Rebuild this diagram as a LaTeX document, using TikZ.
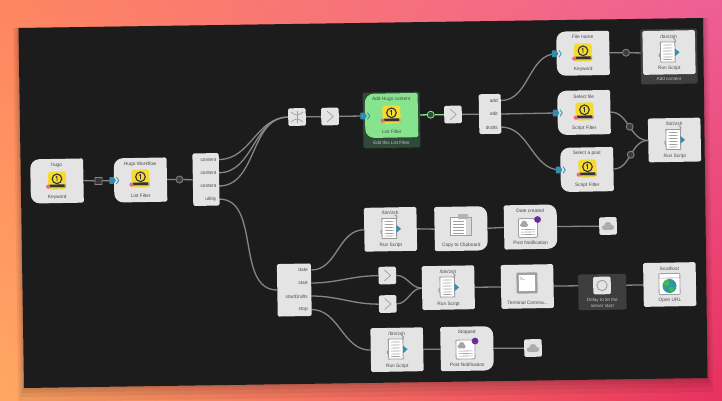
\documentclass[tikz,border=0pt]{standalone}
\usepackage{fontspec}
\setmainfont{Liberation Sans}
\usetikzlibrary{calc,shadings,backgrounds}
\definecolor{panelbg}{HTML}{1C1C1C}
\definecolor{boxgray}{HTML}{E4E4E4}
\definecolor{edgegray}{HTML}{858585}
\definecolor{labelgray}{HTML}{4A4A4A}
\definecolor{portblue}{HTML}{2E8FB0}
\definecolor{nodegreen}{HTML}{86E48C}
\definecolor{framegreen}{HTML}{2F4A38}
\definecolor{framegray}{HTML}{3E3E3E}
\definecolor{hugoyellow}{HTML}{F6DA30}
\definecolor{hugopink}{HTML}{F06488}
\definecolor{notepurple}{HTML}{6A2C98}
\definecolor{bgtl}{HTML}{FF8560}
\definecolor{bgtr}{HTML}{EE5F95}
\definecolor{bgbl}{HTML}{FFA862}
\definecolor{bgbr}{HTML}{E8305E}
\tikzset{
  boxnode/.style={fill=boxgray,rounded corners=1.5pt,rotate=1,inner sep=0pt,minimum width=52.5pt,minimum height=43.8pt},
  basenode/.style={rotate=1,inner sep=0pt,minimum width=52.5pt,minimum height=43.8pt},
  tinybox/.style={fill=boxgray,rounded corners=1.5pt,rotate=1,inner sep=0pt,minimum size=17.6pt},
  framebox/.style={rounded corners=2pt,rotate=1,inner sep=0pt},
  boxlabel/.style={font=\fontsize{4.8}{5.6}\selectfont,text=labelgray,inner sep=0pt},
  caplabel/.style={font=\fontsize{4.6}{6}\selectfont,text=boxgray!85!black,inner sep=0pt,align=center},
  edge/.style={draw=edgegray,line width=1.3pt},
  greenedge/.style={draw=nodegreen,line width=1.3pt},
  joint/.style={circle,draw=edgegray,fill=panelbg!70!edgegray,line width=.8pt,minimum size=7pt,inner sep=0pt},
  iconline/.style={draw=gray!75,line width=.6pt}
}
\newcommand{\flowbox}[6][boxgray]{%
  \node[basenode] (#2) at (#3) {};
  \fill[#1] (#2.north) [rounded corners=#5] -- (#2.north east) -- (#2.east) -- (#2.south east) -- (#2.south)
    [rounded corners=#4] -- (#2.south west) -- (#2.west) -- (#2.north west) -- cycle;
  \node[boxlabel,anchor=center] (#2top) at ($(#2.north)+(.1,6)$) {#6};
}
\newcommand{\boxtext}[3]{%
  \node[boxlabel] (#1top) at ($(#1.north)+(.1,6)$) {#2};
  \node[boxlabel] (#1bottom) at ($(#1.south)+(-.1,-6)$) {#3};
}
\newcommand{\hugoicon}[1]{%
  \begin{scope}[shift={(#1)},rotate=1]
    \fill[hugoyellow,rounded corners=3pt] (-9,-9) rectangle (9,9);
    \fill[gray!70] (-9,4.2) rectangle (9,7.6);
    \fill[black!80] (-7.5,4) rectangle (7.5,6.4);
    \draw[black!80,line width=1.1pt] (0,-1.7) circle (4.8);
    \draw[black!80,line width=.9pt] (-1.2,-3.2) -- (0,-3.9) -- (0,.6);
    \fill[hugopink] (-9,6) circle (2);
  \end{scope}
}
\newcommand{\scripticon}[1]{%
  \begin{scope}[shift={(#1)},rotate=1]
    \draw[gray!80,line width=1pt] (6,-9) arc (90:-90:2.2);
    \draw[gray!80,line width=1pt] (-6,5.5) arc (90:270:2.3);
    \fill[white] (-7,-10) rectangle (7.5,10);
    \draw[gray!80,line width=.8pt] (-7,10) -- (-7,-10) -- (7.5,-10) -- (7.5,10) -- cycle;
    \foreach \ly in {-7,-4,-1,2,5,7.5}
      \draw[iconline] (-4.5,\ly) -- (5,\ly);
    \fill[portblue] (7.5,-3.4) -- (12,.5) -- (7.5,4.4) -- cycle;
  \end{scope}
}
\newcommand{\cloudicon}[2]{%
  \begin{scope}[shift={(#1)},rotate=1]
    \fill[#2] (-3.8,1.5) circle (2.4);
    \fill[#2] (3.6,1.4) circle (2.5);
    \fill[#2] (0,-.4) circle (3.7);
    \fill[#2] (-3.8,.5) rectangle (3.6,3.9);
  \end{scope}
}
\newcommand{\noteicon}[1]{%
  \begin{scope}[shift={(#1)},rotate=1]
    \fill[white,draw=gray!75,line width=.8pt,rounded corners=1pt] (-9.5,-9.5) rectangle (9.5,9.5);
    \foreach \ly in {1.5,4,6.5}
      \draw[iconline] (-7,\ly) -- (7,\ly);
    \fill[notepurple] (9.7,-8.3) circle (3.4);
    \fill[gray!70] (-3.8,-4.5) circle (3);
    \fill[gray!70] (-6.3,-3) circle (1.8);
    \fill[gray!70] (-1.3,-3) circle (1.8);
    \fill[gray!70] (-6.3,-3.2) rectangle (-1.3,-1.2);
  \end{scope}
}
\newcommand{\porttag}[1]{%
  \fill[portblue,rounded corners=.6pt] ($(#1)+(-4.7,-3.4)$) -- ($(#1)+(-.5,-3.4)$) -- ($(#1)+(2,0)$) -- ($(#1)+(-.5,3.4)$) -- ($(#1)+(-4.7,3.4)$) -- cycle;
  \draw[portblue,line width=.8pt] ($(#1)+(2.4,-3.4)$) -- ($(#1)+(4.7,0)$) -- ($(#1)+(2.4,3.4)$);
}
\newcommand{\chevronmark}[1]{%
  \draw[gray!75,line width=.7pt] ($(#1)+(-3,-5.5)$) -- ($(#1)+(3.2,0)$) -- ($(#1)+(-3,5.5)$);
}
\begin{document}
\begin{tikzpicture}[x=1pt,y=-1pt]
\useasboundingbox (0,0) rectangle (722,401);
\begin{scope}[on background layer]
\shade[shading=bilinear interpolation,upper left=bgtl,upper right=bgtr,lower left=bgbl,lower right=bgbr] (0,0) rectangle (722,401);
\foreach \sh in {2,5,9,14}
  \fill[black,opacity=.06] (18.5-.4*\sh,28) -- (703+.4*\sh,18) -- (707.5+.4*\sh,378+\sh) -- (24-.4*\sh,388+\sh) -- cycle;
\fill[panelbg] (18.5,28) -- (703,18) -- (707.5,378) -- (24,388) -- cycle;
\end{scope}

\flowbox{hugo}{57,181}{9pt}{1.5pt}{hugo}
\node[boxlabel] (hugobottom) at ($(hugo.south)+(-.1,-6)$) {Keyword};
\hugoicon{57,180.5}
\flowbox{hugolist}{140.5,180}{9pt}{1.5pt}{Hugo Workflow}
\node[boxlabel] (hugolistbottom) at ($(hugolist.south)+(-.1,-6)$) {List Filter};
\hugoicon{140.5,178.5}
\porttag{hugolist.west}

\node[fill=framegreen,framebox,minimum width=57pt,minimum height=55.7pt] (greenframe) at (391.5,120) {};
\flowbox[nodegreen]{addlist}{391.5,115.5}{9pt}{1.5pt}{Add Hugo content}
\node[boxlabel] (addlistbottom) at ($(addlist.south)+(-.1,-6)$) {List Filter};
\node[caplabel] (addlistcap) at (391.5,142.7) {Edit this List Filter};
\hugoicon{391.5,114.5}
\porttag{addlist.west}

\node[tinybox,minimum height=52.5pt,minimum width=26.3pt] (topsplit) at (206,179.5) {};
\node[tinybox,minimum height=39.8pt,minimum width=22pt] (addsplit) at (490,114) {};
\node[tinybox,minimum height=52.5pt,minimum width=34pt] (datesplit) at (294.3,290) {};
\foreach \tname/\tx/\ty/\ttext in {
  c1/216.5/160/content,c2/216.5/173/content,c3/216.5/186/content,c4/216.5/199.3/utility,
  a1/498/100.7/add,a2/498/114/edit,a3/498/127.3/drafts,
  d1/308/270/date,d2/308/283/start,d3/308/296.3/startDrafts,d4/308/309.7/stop}
  \node[boxlabel,anchor=east] (\tname) at (\tx,\ty) {\ttext};

\foreach \pname/\px/\py in {topa/219/159.5,topb/219/172.7,topc/219/186,topd/219/199,
  adda/501/100.5,addb/501/114,addc/501/127,
  datea/311.3/270,dateb/311.3/283,datec/311.3/296,dated/311.3/309.5,dateend/277.3/290}
  \coordinate (\pname) at (\px,\py);

\node[tinybox] (mix) at (297,117) {};
\draw[gray!75,line width=.7pt] ($(mix)+(-6,-5)$) .. controls ($(mix)+(-1,-1)$) and ($(mix)+(1,-1)$) .. ($(mix)+(6,-5)$);
\draw[gray!75,line width=.7pt] ($(mix)+(-6,5)$) .. controls ($(mix)+(-1,1)$) and ($(mix)+(1,1)$) .. ($(mix)+(6,5)$);
\draw[gray!75,line width=.7pt] ($(mix)+(0,-6)$) -- ($(mix)+(0,6)$);
\node[tinybox] (next1) at (330,116.5) {};
\chevronmark{next1}
\node[tinybox] (next2) at (453,114.5) {};
\chevronmark{next2}

\flowbox{filename}{583,53.3}{9pt}{1.5pt}{File name}
\node[boxlabel] (filenamebottom) at ($(filename.south)+(-.1,-6)$) {Keyword};
\hugoicon{583,52.5}
\porttag{filename.west}
\flowbox{selectfile}{584,112.5}{9pt}{1.5pt}{Select file}
\node[boxlabel] (selectfilebottom) at ($(selectfile.south)+(-.1,-6)$) {Script Filter};
\hugoicon{584.5,111.5}
\porttag{selectfile.west}
\flowbox{selectpost}{587,169.5}{9pt}{1.5pt}{Select a post}
\node[boxlabel] (selectpostbottom) at ($(selectpost.south)+(-.1,-6)$) {Script Filter};
\hugoicon{587.5,168.5}
\porttag{selectpost.west}

\node[fill=framegray,framebox,minimum width=56.6pt,minimum height=55pt] (addframe) at (669,56.5) {};
\node[boxnode] (addrun) at (669,52.5) {};
\boxtext{addrun}{/bin/zsh}{Run Script}
\node[caplabel] (addruncap) at (669,79) {Add content};
\scripticon{667.5,52}
\node[boxnode] (mergerun) at (674.5,140) {};
\boxtext{mergerun}{/bin/zsh}{Run Script}
\scripticon{673,139.5}

\node[boxnode] (datescript) at (390.5,229.3) {};
\boxtext{datescript}{/bin/zsh}{Run Script}
\scripticon{389,228.5}
\flowbox{clipboard}{461,228.7}{1.5pt}{9pt}{}
\node[boxlabel] (clipboardbottom) at ($(clipboard.south)+(-.1,-6)$) {Copy to Clipboard};
\fill[white,draw=gray!75,line width=.7pt] (450,217.7) rectangle (471,235);
\fill[gray!30] (466,218) rectangle (471,235);
\foreach \ly in {221,224,227,230,233}
  \draw[iconline] (453,\ly) -- (464,\ly);
\fill[gray!60,rounded corners=.8pt] (458,214) rectangle (468,219);
\flowbox{datenote}{530.5,227}{1.5pt}{9pt}{Date created}
\node[boxlabel] (datenotebottom) at ($(datenote.south)+(-.1,-6)$) {Post Notification};
\noteicon{528,228}
\node[tinybox] (cloud1) at (608,226) {};
\cloudicon{608,226}{gray!65}

\node[tinybox] (next3) at (387.3,275.5) {};
\chevronmark{next3}
\node[tinybox] (next4) at (387.7,304) {};
\chevronmark{next4}
\node[boxnode] (startscript) at (448.3,287.7) {};
\boxtext{startscript}{/bin/zsh}{Run Script}
\scripticon{447,287}
\node[boxnode] (terminal) at (527.3,286.5) {};
\node[boxlabel] (terminalbottom) at ($(terminal.south)+(-.1,-6)$) {Terminal Comma...};
\begin{scope}[shift={(527,283)},rotate=1]
  \fill[gray!75,rounded corners=1pt] (-10.5,-10.5) rectangle (10.5,10.5);
  \fill[white] (-8,-8) rectangle (8,8);
  \draw[gray!90,line width=.4pt] (-6.5,-6) -- (-5,-4.8) -- (-6.5,-3.6) (-4.5,-3.4) -- (-2.5,-3.4);
\end{scope}
\node[fill=framegray,framebox,minimum width=48pt,minimum height=35.7pt] (delayframe) at (602.3,292) {};
\node[tinybox] (delay) at (602,285.5) {};
\draw[gray!75,line width=.9pt] (delay) circle (5.2);
\node[caplabel] (delaycap) at (602.3,302.5) {Delay to let the\\server start};
\node[boxnode] (openurl) at (669.7,284.5) {};
\boxtext{openurl}{localhost}{Open URL}
\begin{scope}[shift={(669.5,284)},rotate=1]
  \fill[white,draw=gray!75,line width=.8pt,rounded corners=.8pt] (-10.5,-10.5) rectangle (10.5,10.5);
  \draw[gray!75,line width=.6pt] (-10.5,-6) -- (10.5,-6);
  \fill[portblue!90!green] (0,2) circle (7);
  \fill[green!45!gray] (-3,-1) circle (3);
  \fill[green!45!gray] (2,5) circle (2.4);
\end{scope}

\node[boxnode] (stopscript) at (397,349.7) {};
\boxtext{stopscript}{/bin/zsh}{Run Script}
\scripticon{395.5,349}
\flowbox{stopnote}{467,348.7}{1.5pt}{9pt}{Stopped}
\node[boxlabel] (stopnotebottom) at ($(stopnote.south)+(-.1,-6)$) {Post Notification};
\noteicon{465.5,349.5}
\node[tinybox] (cloud2) at (533,348) {};
\cloudicon{533,348}{gray!65}

\node[minimum size=7pt,inner sep=0pt,draw=edgegray,line width=.8pt,fill=panelbg!75!edgegray,rotate=1] (gate) at (98.5,181) {};
\node[joint] (joint1) at (179.5,179.5) {};
\node[joint] (joint2) at (626,52.7) {};
\node[joint] (joint3) at (629.7,126.7) {};
\node[joint] (joint4) at (630.7,154.7) {};
\node[joint,draw=nodegreen,fill=framegreen] (joint5) at (430.7,114.7) {};

\begin{scope}[on background layer]
\draw[edge] (hugo.east) -- (gate);
\draw[edge] (gate) -- (hugolist.west);
\draw[edge] (hugolist.east) -- (joint1) -- (topsplit.west);
\draw[edge] (topa) to[out=0,in=180] (mix.west);
\draw[edge] (topb) to[out=0,in=180] (mix.west);
\draw[edge] (topc) to[out=0,in=180] (mix.west);
\draw[edge] (topd) to[out=0,in=180] (dateend);
\draw[edge] (mix) -- (next1) -- (addlist.west);
\draw[greenedge] (addlist.east) -- (joint5) -- (next2.west);
\draw[edge] (next2) -- (addsplit.west);
\draw[edge] (adda) to[out=0,in=180] (filename.west);
\draw[edge] (addb) -- (selectfile.west);
\draw[edge] (addc) to[out=0,in=180] (selectpost.west);
\draw[edge] (filename.east) -- (joint2) -- (addrun.west);
\draw[edge] (selectfile.east) to[out=0,in=180] (mergerun.west);
\draw[edge] (selectpost.east) to[out=0,in=180] (mergerun.west);
\draw[edge] (datea) to[out=0,in=180] (datescript.west);
\draw[edge] (datescript.east) -- (clipboard.west);
\draw[edge] (clipboard.east) -- (datenote.west);
\draw[edge] (datenote.east) -- (cloud1.west);
\draw[edge] (dateb) to[out=0,in=180] (next3.west);
\draw[edge] (datec) to[out=0,in=180] (next4.west);
\draw[edge] (next3.east) to[out=0,in=180] (startscript.west);
\draw[edge] (next4.east) to[out=0,in=180] (startscript.west);
\draw[edge] (startscript.east) -- (terminal.west);
\draw[edge] (terminal.east) -- (delay.west);
\draw[edge] (delay.east) -- (openurl.west);
\draw[edge] (dated) to[out=0,in=180] (stopscript.west);
\draw[edge] (stopscript.east) -- (stopnote.west);
\draw[edge] (stopnote.east) -- (cloud2.west);
\end{scope}
\end{tikzpicture}
\end{document}
